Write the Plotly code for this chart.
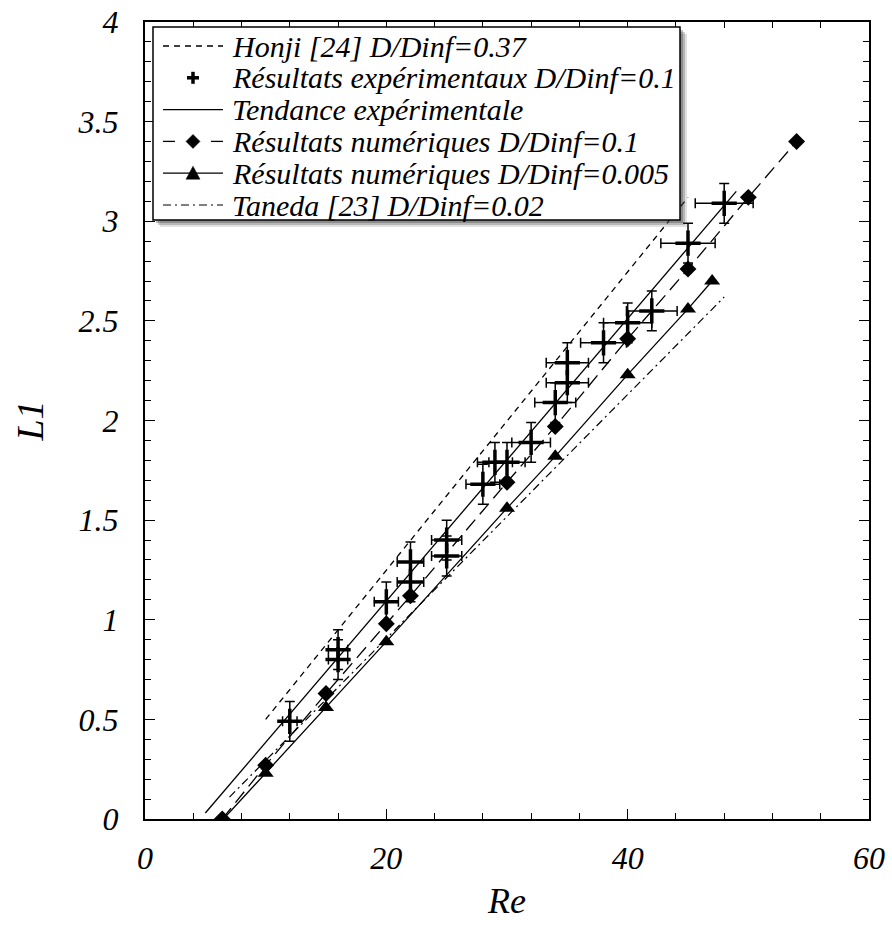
import plotly.graph_objects as go

# ---------------- data ----------------
honji_re = [10, 45]
honji_l1 = [0.50, 3.12]

exp_re = [12, 16, 16, 20, 22, 22, 25, 25, 28, 29, 30, 32, 34, 35, 35, 38, 40, 42, 45, 48]
exp_l1 = [0.49, 0.80, 0.85, 1.09, 1.19, 1.29, 1.32, 1.40, 1.68, 1.79, 1.79, 1.89, 2.09, 2.19, 2.29, 2.39, 2.49, 2.55, 2.89, 3.09]
exp_re_err = [0.6, 0.8, 0.8, 1.0, 1.1, 1.1, 1.25, 1.25, 1.4, 1.45, 1.5, 1.6, 1.7, 1.75, 1.75, 1.9, 2.0, 2.1, 2.25, 2.4]
exp_l1_err = [0.1] * 20

trend_re = [5, 49]
trend_l1 = [0.03, 3.15]

num01_re = [6.4, 10, 15, 20, 22, 30, 34, 40, 45, 50, 54]
num01_l1 = [0.0, 0.27, 0.63, 0.98, 1.12, 1.69, 1.97, 2.41, 2.76, 3.12, 3.40]

num0005_re = [6.5, 10, 15, 20, 30, 34, 40, 45, 47]
num0005_l1 = [0.0, 0.23, 0.56, 0.89, 1.56, 1.82, 2.23, 2.56, 2.70]

taneda_re = [7, 48]
taneda_l1 = [0.11, 2.62]

x_ticks = [0, 20, 40, 60]
y_ticks = [0, 0.5, 1, 1.5, 2, 2.5, 3, 3.5, 4]

legend_names = [
    "Honji [24] D/Dinf=0.37",
    "Résultats expérimentaux D/Dinf=0.1",
    "Tendance expérimentale",
    "Résultats numériques D/Dinf=0.1",
    "Résultats numériques D/Dinf=0.005",
    "Taneda [23] D/Dinf=0.02",
]

# ---------------- styles ----------------
FONT = "Liberation Serif"
DASH_HONJI = "6px,5px"
DASH_NUM01 = "14px,7px"
DASH_TANEDA = "8px,4px,2px,4px"

fig = go.Figure()

fig.add_trace(go.Scatter(x=honji_re, y=honji_l1, mode="lines",
                         line=dict(color="black", width=1.3, dash=DASH_HONJI),
                         name=legend_names[0]))
fig.add_trace(go.Scatter(x=exp_re, y=exp_l1, mode="markers",
                         marker=dict(symbol="cross-thin", size=18, color="black",
                                     line=dict(color="black", width=3.5)),
                         error_x=dict(type="data", array=exp_re_err, visible=True,
                                      color="black", thickness=1.5, width=5),
                         error_y=dict(type="data", array=exp_l1_err, visible=True,
                                      color="black", thickness=1.5, width=5),
                         name=legend_names[1]))
fig.add_trace(go.Scatter(x=trend_re, y=trend_l1, mode="lines",
                         line=dict(color="black", width=1.3),
                         name=legend_names[2]))
fig.add_trace(go.Scatter(x=num01_re, y=num01_l1, mode="lines+markers",
                         line=dict(color="black", width=1.3, dash=DASH_NUM01),
                         marker=dict(symbol="diamond", size=13, color="black"),
                         name=legend_names[3]))
fig.add_trace(go.Scatter(x=num0005_re, y=num0005_l1, mode="lines+markers",
                         line=dict(color="black", width=1.3),
                         marker=dict(symbol="triangle-up", size=14, color="black"),
                         name=legend_names[4]))
fig.add_trace(go.Scatter(x=taneda_re, y=taneda_l1, mode="lines",
                         line=dict(color="black", width=1.2, dash=DASH_TANEDA),
                         name=legend_names[5]))

L, R, T, B = 145, 23, 22, 114
W, H = 892, 933
pw, ph = W - L - R, H - T - B

def px(x):
    return (x - L) / pw

def py(y):
    return 1 - (y - T) / ph

# ---------------- legend box (layout decoration) ----------------
BOX_L, BOX_R, BOX_T, BOX_B = 153, 680, 27, 220
ROW0, ROW_STEP = 46, 31.8
SYM_L, SYM_R, TEXT_X = 163, 223, 230
SYM_C = (SYM_L + SYM_R) / 2

shapes = []
for off, alpha in [(7, 0.16), (5, 0.26), (3, 0.34)]:
    shapes.append(dict(type="rect", xref="paper", yref="paper",
                       x0=px(BOX_L + off), x1=px(BOX_R + off),
                       y0=py(BOX_B + off), y1=py(BOX_T + off),
                       fillcolor=f"rgba(60,60,60,{alpha})", line=dict(width=0), layer="above"))
shapes.append(dict(type="rect", xref="paper", yref="paper",
                   x0=px(BOX_L), x1=px(BOX_R), y0=py(BOX_B), y1=py(BOX_T),
                   fillcolor="white", line=dict(color="black", width=1.5), layer="above"))

def seg(x0, x1, y, dash="solid", width=1.3):
    return dict(type="line", xref="paper", yref="paper", x0=px(x0), x1=px(x1),
                y0=py(y), y1=py(y), line=dict(color="black", width=width, dash=dash),
                layer="above")

rows = [ROW0 + i * ROW_STEP for i in range(6)]
shapes.append(seg(SYM_L, SYM_R, rows[0], DASH_HONJI))
shapes.append(seg(SYM_C - 6, SYM_C + 6, rows[1], width=3.5))
shapes.append(dict(type="line", xref="paper", yref="paper", x0=px(SYM_C), x1=px(SYM_C),
                   y0=py(rows[1] - 6), y1=py(rows[1] + 6),
                   line=dict(color="black", width=3.5), layer="above"))
shapes.append(seg(SYM_L, SYM_R, rows[2]))
shapes.append(seg(SYM_L, SYM_L + 12, rows[3]))
shapes.append(seg(SYM_R - 12, SYM_R, rows[3]))
d = 7
shapes.append(dict(type="path", xref="paper", yref="paper",
                   path=f"M {px(SYM_C - d)} {py(rows[3])} L {px(SYM_C)} {py(rows[3] - d)} "
                        f"L {px(SYM_C + d)} {py(rows[3])} L {px(SYM_C)} {py(rows[3] + d)} Z",
                   fillcolor="black", line=dict(color="black", width=0.5), layer="above"))
shapes.append(seg(SYM_L, SYM_R, rows[4]))
t = 7
shapes.append(dict(type="path", xref="paper", yref="paper",
                   path=f"M {px(SYM_C - t)} {py(rows[4] + 6)} L {px(SYM_C)} {py(rows[4] - 7)} "
                        f"L {px(SYM_C + t)} {py(rows[4] + 6)} Z",
                   fillcolor="black", line=dict(color="black", width=0.5), layer="above"))
shapes.append(seg(SYM_L, SYM_R, rows[5], DASH_TANEDA, width=1.2))

annotations = [dict(text=name, xref="paper", yref="paper", x=px(TEXT_X), y=py(r),
                    xanchor="left", yanchor="middle", showarrow=False,
                    font=dict(family=FONT, size=30, color="black", style="italic"))
               for name, r in zip(legend_names, rows)]

axis_common = dict(showline=True, linecolor="black", linewidth=2, mirror="ticks",
                   ticks="inside", ticklen=10, tickwidth=1.3, tickcolor="black",
                   showgrid=False, zeroline=False, automargin=False,
                   tickfont=dict(family=FONT, size=32, color="black", style="italic"))

fig.update_xaxes(range=[0, 60], tickmode="array", tickvals=x_ticks,
                 ticktext=[str(v) for v in x_ticks], ticklabelstandoff=10,
                 minor=dict(ticks="inside", ticklen=6, tickwidth=1.1, tickcolor="black",
                            dtick=4, tick0=0),
                 title=dict(text="Re", font=dict(family=FONT, size=36, color="black", style="italic"),
                            standoff=12),
                 **axis_common)
fig.update_yaxes(range=[0, 4], tickmode="array", tickvals=y_ticks,
                 ticktext=["0", "0.5", "1", "1.5", "2", "2.5", "3", "3.5", "4"],
                 ticklabelstandoff=18,
                 minor=dict(ticks="inside", ticklen=6, tickwidth=1.1, tickcolor="black",
                            dtick=0.1, tick0=0),
                 title=dict(text="L1", font=dict(family=FONT, size=38, color="black", style="italic"),
                            standoff=22),
                 **axis_common)

fig.update_layout(
    width=W, height=H,
    margin=dict(l=L, r=R, t=T, b=B),
    paper_bgcolor="white", plot_bgcolor="white",
    showlegend=False,
    shapes=shapes,
    annotations=annotations,
)

fig.write_html("out.html", config={"displayModeBar": False},
               post_script="document.body.style.margin='0px';")
